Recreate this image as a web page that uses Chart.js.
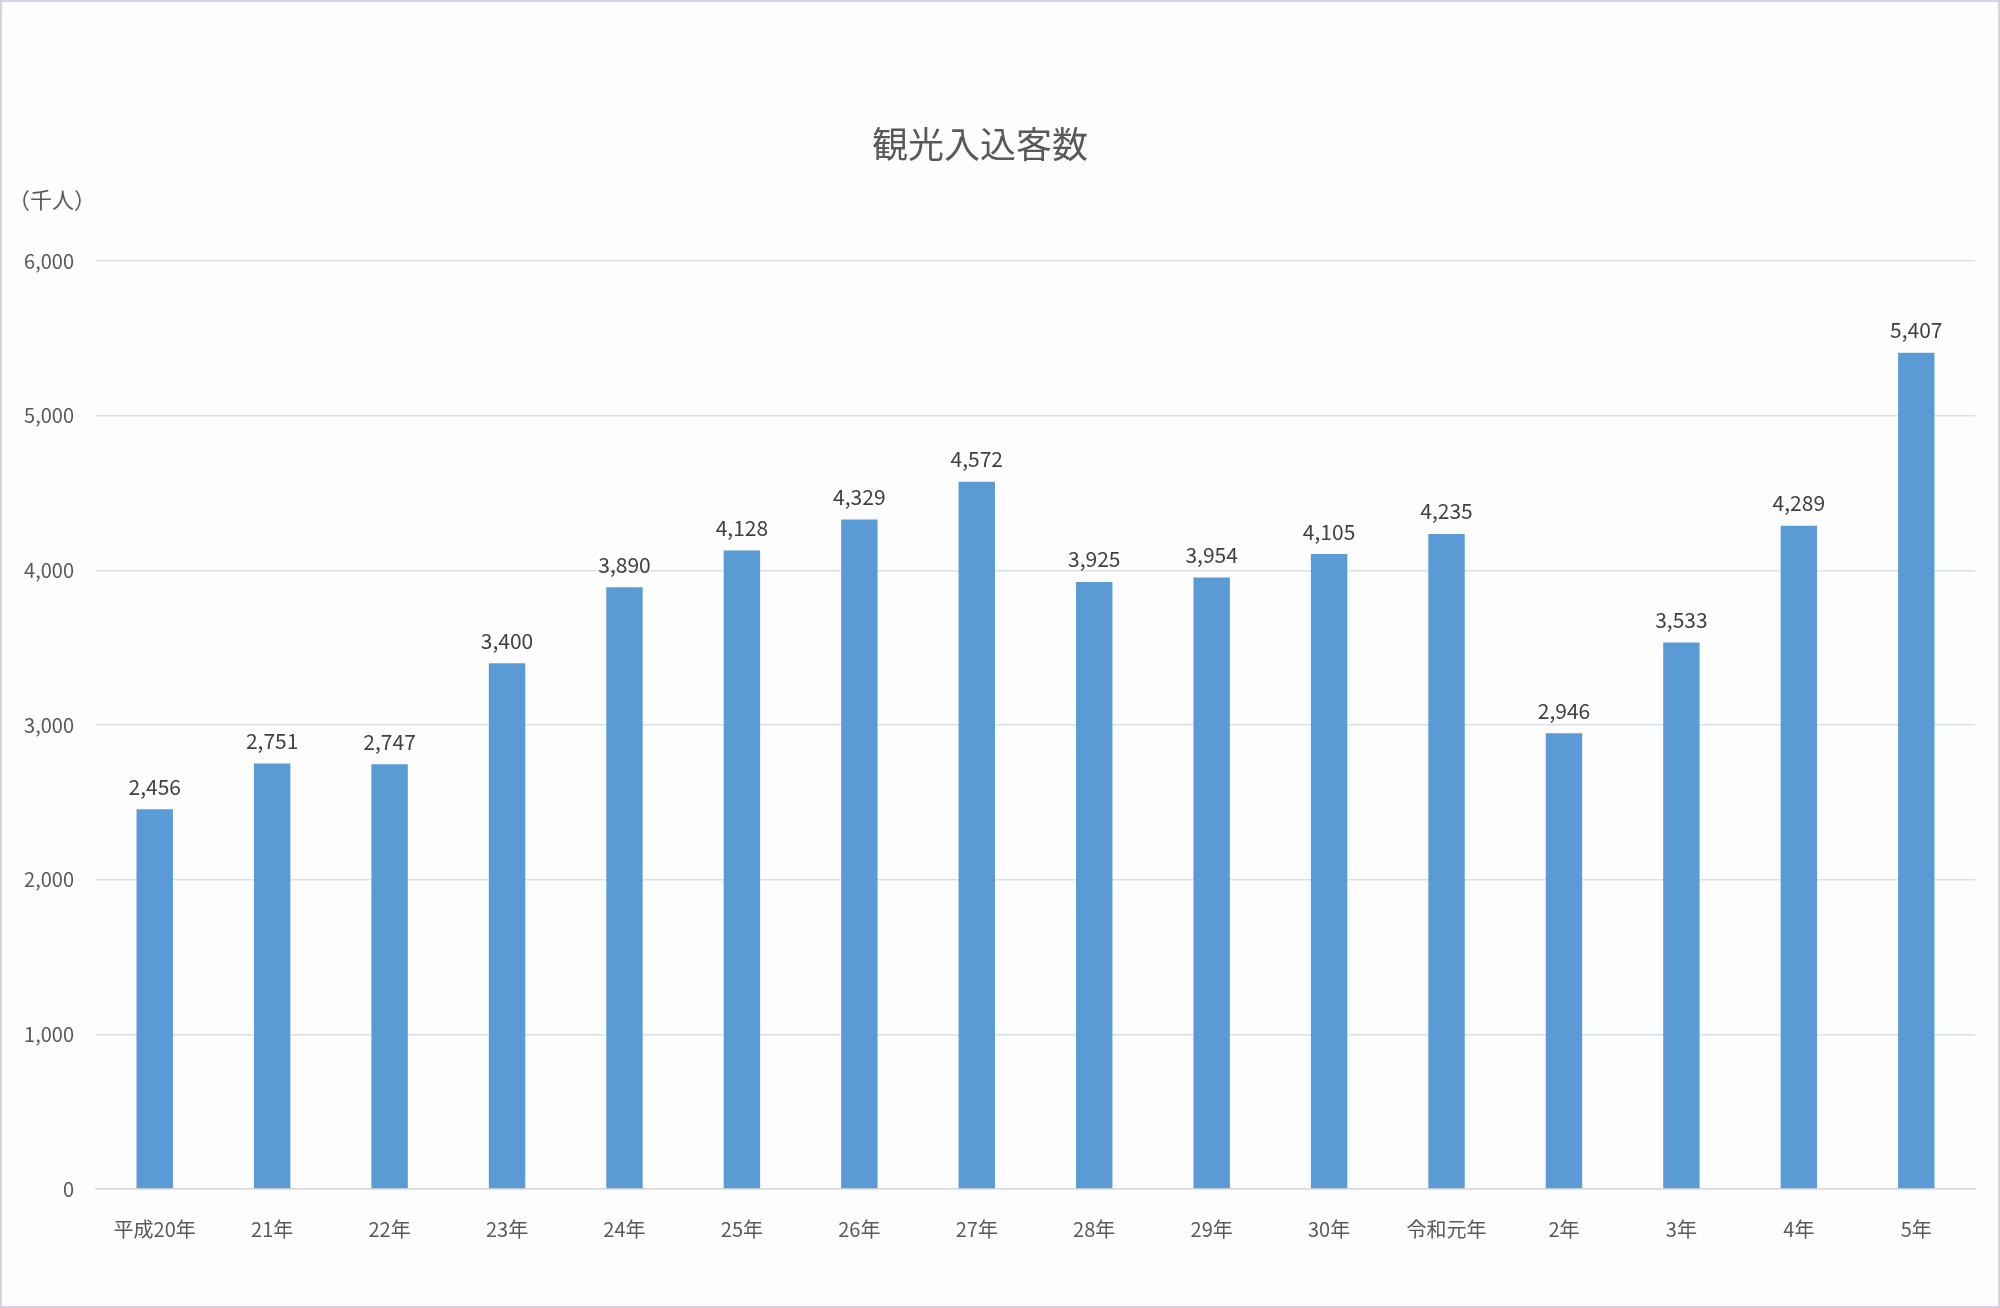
<!DOCTYPE html>
<html>
<head>
<meta charset="utf-8">
<script src="https://cdn.jsdelivr.net/npm/chart.js@4.4.1/dist/chart.umd.min.js"></script>
<style>
  html, body { margin: 0; padding: 0; background: #fff; }
  canvas { display: block; }
</style>
</head>
<body>
<canvas id="chart" width="2000" height="1308"></canvas>
<script>
// データ（千人）
const categories = ['平成20年', '21年', '22年', '23年', '24年', '25年', '26年', '27年',
                    '28年', '29年', '30年', '令和元年', '2年', '3年', '4年', '5年'];
const visitors = [2456, 2751, 2747, 3400, 3890, 4128, 4329, 4572,
                  3925, 3954, 4105, 4235, 2946, 3533, 4289, 5407];
const yTicks = [0, 1000, 2000, 3000, 4000, 5000, 6000];

const FONT = '"Noto Sans CJK JP", "Noto Sans", sans-serif';

// 背景・枠線・タイトル・単位
const decorPlugin = {
    id: 'decor',
    beforeDraw(chart) {
        const c = chart.ctx;
        c.save();
        c.fillStyle = '#fdfdfd';
        c.fillRect(0, 0, chart.width, chart.height);
        c.strokeStyle = '#d9cfe2';
        c.lineWidth = 2;
        c.strokeRect(1, 1, chart.width - 2, chart.height - 2);
        c.restore();
    },
    afterDraw(chart) {
        const c = chart.ctx;
        c.save();
        c.fillStyle = '#595959';
        c.textAlign = 'center';
        c.textBaseline = 'middle';
        c.font = '36px ' + FONT;
        c.fillText('観光入込客数', 980, 144);
        c.textAlign = 'left';
        c.font = '22px ' + FONT;
        c.fillText('（千人）', 8, 200);
        c.restore();
    }
};

// 棒の上に値ラベル
const labelPlugin = {
    id: 'barLabels',
    afterDatasetsDraw(chart) {
        const c = chart.ctx;
        const meta = chart.getDatasetMeta(0);
        c.save();
        c.fillStyle = '#404040';
        c.font = '21px ' + FONT;
        c.textAlign = 'center';
        c.textBaseline = 'bottom';
        meta.data.forEach((bar, i) => {
            c.fillText(visitors[i].toLocaleString('en-US'), bar.x, bar.y - 12);
        });
        c.restore();
    }
};

new Chart(document.getElementById('chart'), {
    type: 'bar',
    data: {
        labels: categories,
        datasets: [{
            data: visitors,
            backgroundColor: '#5b9bd5',
            borderWidth: 0,
            categoryPercentage: 1.0,
            barPercentage: 0.31
        }]
    },
    options: {
        responsive: false,
        animation: false,
        layout: { padding: { top: 261, right: 25, bottom: 69, left: 0 } },
        plugins: {
            legend: { display: false },
            tooltip: { enabled: false }
        },
        scales: {
            y: {
                min: 0,
                max: 6000,
                afterFit: scale => { scale.width = 96; },
                afterBuildTicks: scale => { scale.ticks = yTicks.map(v => ({ value: v })); },
                grid: { color: '#d9e1e8', lineWidth: 1.5, drawTicks: false },
                border: { display: false },
                ticks: {
                    font: { family: FONT, size: 20 },
                    color: '#595959',
                    padding: 22
                }
            },
            x: {
                afterFit: scale => { scale.height = 50; },
                grid: { display: false },
                border: { color: '#d9d9d9', width: 1.5 },
                ticks: {
                    font: { family: FONT, size: 20 },
                    color: '#595959',
                    padding: 20,
                    maxRotation: 0
                }
            }
        }
    },
    plugins: [decorPlugin, labelPlugin]
});
</script>
</body>
</html>
